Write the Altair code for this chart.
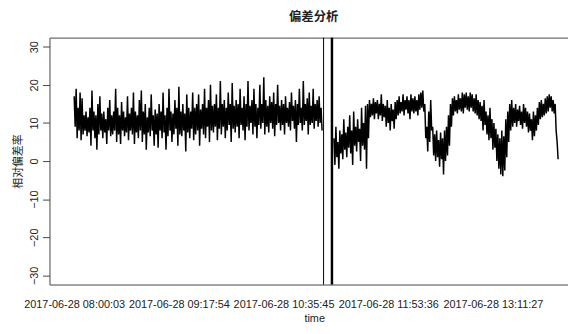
import altair as alt
import pandas as pd

title_text = "偏差分析"
y_title = "相对偏差率"
x_title = "time"

tick_secs = [0, 4671, 9342, 14013, 18684]
tick_labels = ["2017-06-28 08:00:03", "2017-06-28 09:17:54", "2017-06-28 10:35:45",
               "2017-06-28 11:53:36", "2017-06-28 13:11:27"]
y_ticks = [-30, -20, -10, 0, 10, 20, 30]

# seconds between successive readings
sample_step = 44.07
seg_start = [0, 11590]

seg1_hi = [17, 19, 14, 18, 16.5, 12, 13, 11.5, 14, 18.5,
           13, 12, 15, 17, 12.5, 13, 11, 14, 16, 12,
           13, 19, 14, 12, 15.5, 13, 11.5, 17, 12.5, 14,
           18, 13, 12, 16, 18.5, 13, 15, 11.5, 14, 17.5,
           12, 13.5, 12.5, 15, 13, 18, 12, 14, 19, 13,
           12.5, 16, 14, 19.5, 13, 15, 12.5, 17.5, 14, 13,
           18, 14, 15, 17.5, 13.5, 15, 19, 14, 16, 20,
           14.5, 15, 17.5, 14, 21, 15, 16, 14, 18, 15,
           20.5, 14.5, 16, 15, 19, 14, 17, 15, 21, 14.5,
           16, 19, 15, 14, 20, 15, 22, 16, 14.5, 17,
           15.5, 18, 15, 20, 14.5, 16, 15, 17, 14, 15.5,
           18, 14.5, 16, 15, 19, 14, 21, 15, 16.5, 18,
           14.5, 19, 15, 16, 17, 14]
seg1_lo = [9, 6, 8, 5.5, 7, 8, 6.5, 7.5, 4, 8,
           6, 3, 7, 8, 6, 7.5, 4.5, 8, 6.5, 7,
           8, 5, 7, 4.5, 8, 6.5, 7.5, 5.5, 8, 7,
           4.5, 7.5, 6, 8, 5, 7, 3, 7.5, 6.5, 8,
           4, 7, 3.5, 8, 6, 7.5, 3, 6.5, 8, 5,
           7, 8.5, 4, 7, 6.5, 8, 2.5, 7.5, 6, 8.5,
           5.5, 7, 8, 4, 8.5, 7, 6, 9, 5, 8,
           7.5, 9, 5.5, 8.5, 7, 9, 6, 8, 9.5, 5,
           8.5, 7.5, 9, 6, 9.5, 8, 5.5, 9, 8, 10,
           7, 9, 6, 9.5, 8.5, 10, 7, 9, 7.5, 10,
           8.5, 6.5, 9.5, 10, 8, 9.5, 7, 10, 9, 8,
           10.5, 8.5, 5, 9.5, 10, 8, 9.5, 10.5, 7, 9.5,
           10, 8.5, 10.5, 9, 10, 8]

seg2_hi = [6, 9, 5, 8, 7, 11, 7.5, 9, 12, 8,
           13, 9, 11, 8.5, 14, 10, 14.5, 15, 16, 15,
           16.5, 15.5, 16, 15, 17.5, 15, 14.5, 16, 14, 15,
           13.5, 15.5, 16, 17, 15.5, 17.5, 16, 17, 16, 17.5,
           16.5, 17, 16, 17.5, 18, 18.5, 15, 9, 13, 16,
           9, 7, 8, 5.5, 7.5, 6, 8, 9, 12, 15,
           16.5, 17, 16, 17.5, 16.5, 18, 17.5, 18, 17, 18,
           17.5, 16.5, 17.5, 16, 15.5, 14.5, 16, 13, 12, 14,
           11, 10, 8.5, 7, 6, 8, 6.5, 11, 13, 15,
           16, 14, 15, 13.5, 14.5, 13, 15, 14, 13, 12.5,
           11, 13, 12, 14, 15.5, 16, 15, 16.5, 17, 17.5,
           17, 16, 15, 5]
seg2_lo = [-1, 1, -2, 2, 0.5, 3, 1, 3.5, 2, -1,
           4, 2.5, 5, 0, 4, 3, -2, 6, 11.5, 12,
           11, 12.5, 11, 12, 10.5, 11.5, 9, 10, 8, 10.5,
           8.5, 11, 12, 12.5, 13, 12, 13.5, 12.5, 11, 13,
           12.5, 13, 12, 13.5, 14, 13, 6, 2.5, 5, 8,
           1.5, 0, 1, -1.5, 0.5, -3.5, 0, 1.5, 4, 9,
           12, 13, 12.5, 13.5, 13, 12.5, 14, 13.5, 13, 14,
           13, 12.5, 12, 11, 10.5, 8, 9.5, 7, 5.5, 6,
           3, 3.5, 0, -2, -3.5, -4, -2.5, 1, 5, 8,
           9, 10, 9, 10.5, 9.5, 8.5, 10, 9, 7.5, 8,
           5.5, 6.5, 8, 9.5, 11, 11.5, 12, 12.5, 13, 14,
           13, 12.5, 8, 0.5]

break_thin = [11128]
break_thick = [11502]

rows = []
for s, (hi, lo) in enumerate([(seg1_hi, seg1_lo), (seg2_hi, seg2_lo)]):
    k = 0
    for h, l in zip(hi, lo):
        rows.append({"t": seg_start[s] + k * sample_step, "v": h, "seg": s})
        k += 1
        rows.append({"t": seg_start[s] + k * sample_step, "v": l, "seg": s})
        k += 1
df = pd.DataFrame(rows)

xscale = alt.Scale(domain=[-1102, 22035], nice=False, zero=False)
yscale = alt.Scale(domain=[-32.4, 32.4], nice=False, zero=False)

label_expr = ("[" + ",".join(f"'{l}'" for l in tick_labels) + "][indexof(["
              + ",".join(str(v) for v in tick_secs) + "], datum.value)]")

TXT = "#222222"
AX = "#444444"

line = alt.Chart(df).mark_line(color="black", strokeWidth=1.5, strokeJoin="bevel").encode(
    x=alt.X("t:Q", scale=xscale,
            axis=alt.Axis(values=tick_secs, labelExpr=label_expr, ticks=False, grid=False,
                          domain=True, domainColor=AX, labelPadding=14,
                          labelFont="Liberation Sans", labelFontSize=11, labelColor=TXT,
                          labelOverlap=False, labelFlush=False,
                          title=x_title, titleFont="Liberation Sans", titleFontSize=11,
                          titleFontWeight="normal", titlePadding=3, titleColor=TXT,
                          titleX=268)),
    y=alt.Y("v:Q", scale=yscale,
            axis=alt.Axis(values=y_ticks, grid=False, domain=True, domainColor=AX,
                          ticks=True, tickSize=7, tickColor=AX,
                          labelAngle=270, labelAlign="center", labelBaseline="bottom",
                          labelPadding=3, labelFont="Liberation Sans", labelFontSize=11,
                          labelColor=TXT, labelOverlap=False,
                          title=y_title, titleFont="Noto Sans CJK SC", titleFontSize=11,
                          titleFontWeight="normal", titlePadding=5, titleColor=TXT)),
    detail="seg:N",
)

rule_thin = alt.Chart(pd.DataFrame({"t": break_thin})).mark_rule(
    color="black", strokeWidth=1).encode(
    x=alt.X("t:Q", scale=xscale,
            axis=alt.Axis(orient="top", labels=False, ticks=False, domain=True,
                          domainColor=AX, grid=False, title=None)),
)

rule_thick = alt.Chart(pd.DataFrame({"t": break_thick})).mark_rule(
    color="black", strokeWidth=2.5).encode(
    x=alt.X("t:Q", scale=xscale, axis=None),
)

chart = alt.layer(line, rule_thin, rule_thick).resolve_axis(x="independent").properties(
    width=525, height=250,
    title=alt.TitleParams(title_text, font="Noto Sans CJK SC", fontSize=12.5, fontWeight="bold",
                          color=TXT, anchor="middle", offset=13, dx=5),
    autosize=alt.AutoSizeParams(type="none"),
    padding={"left": 42, "top": 28, "right": 0, "bottom": 40},
).configure_view(stroke="transparent")

chart.save("out.html", embed_options={"renderer": "svg", "actions": False})
